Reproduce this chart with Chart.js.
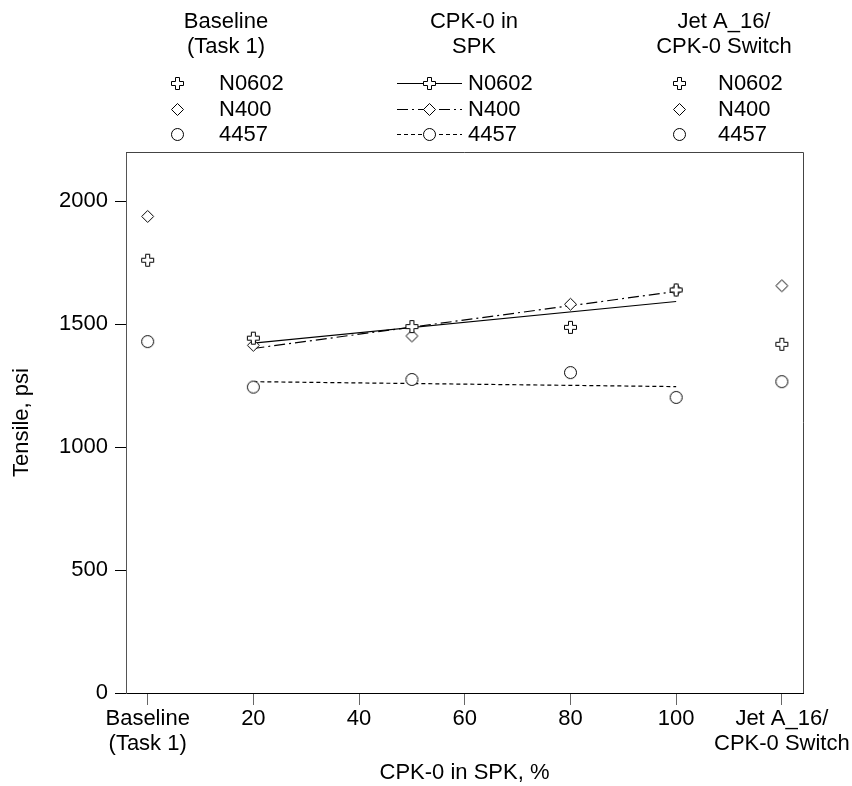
<!DOCTYPE html>
<html>
<head>
<meta charset="utf-8">
<script src="https://cdn.jsdelivr.net/npm/chart.js@4.4.0/dist/chart.umd.min.js"></script>
<style>
  html, body { margin: 0; padding: 0; background: #fff; }
</style>
</head>
<body>
<canvas id="chart" width="852" height="786"></canvas>
<script>
// x positions: Baseline, 20 %, 50 %, 80 %, 100 %, Jet A switch
const xPos = [0, 20, 50, 80, 100, 120];
const n0602 = [1760, 1443, 1490, 1487, 1639, 1418];
const n400 = [1938, 1414, 1452, 1581, 1639, 1656];
const s4457 = [1429, 1244, 1275, 1303, 1202, 1266];

// fitted lines over the CPK-0 blends (20..100 %)
const fitX = [20, 100];
const n0602Fit = [1423, 1592];
const n400Fit = [1401, 1633];
const s4457Fit = [1266, 1246];

const xTickVals = [0, 20, 40, 60, 80, 100, 120];
const xTickLabels = [['Baseline', '(Task 1)'], '20', '40', '60', '80', '100', ['Jet A_16/', 'CPK-0 Switch']];
const yTickVals = [0, 500, 1000, 1500, 2000];
const seriesNames = ['N0602', 'N400', '4457'];
const groupTitles = [['Baseline', '(Task 1)'], ['CPK-0 in', 'SPK'], ['Jet A_16/', 'CPK-0 Switch']];

const FONT_FAMILY = '"Liberation Sans", Arial, sans-serif';
const font = { family: FONT_FAMILY, size: 22 };
const markerKinds = ['plus', 'diamond', 'circle'];
const lineDashes = [[], [11, 4, 2, 4], [4, 3]];

function traceMarker(ctx, kind, x, y) {
  ctx.beginPath();
  if (kind === 'plus') {
    const a = 2, e = 6;
    ctx.moveTo(x - a, y - e);
    ctx.lineTo(x + a, y - e);
    ctx.lineTo(x + a, y - a);
    ctx.lineTo(x + e, y - a);
    ctx.lineTo(x + e, y + a);
    ctx.lineTo(x + a, y + a);
    ctx.lineTo(x + a, y + e);
    ctx.lineTo(x - a, y + e);
    ctx.lineTo(x - a, y + a);
    ctx.lineTo(x - e, y + a);
    ctx.lineTo(x - e, y - a);
    ctx.lineTo(x - a, y - a);
    ctx.closePath();
  } else if (kind === 'diamond') {
    ctx.moveTo(x, y - 6);
    ctx.lineTo(x + 6, y);
    ctx.lineTo(x, y + 6);
    ctx.lineTo(x - 6, y);
    ctx.closePath();
  } else {
    ctx.arc(x, y, 6, 0, Math.PI * 2);
  }
  ctx.fillStyle = '#fff';
  ctx.fill();
  ctx.strokeStyle = '#000';
  ctx.lineWidth = 1;
  ctx.setLineDash([]);
  ctx.stroke();
}

function markerImage(kind) {
  const c = document.createElement('canvas');
  c.width = 15;
  c.height = 15;
  traceMarker(c.getContext('2d'), kind, 7.5, 7.5);
  return c;
}

const seriesValues = [n0602, n400, s4457];
const fitValues = [n0602Fit, n400Fit, s4457Fit];

const pointSets = seriesValues.map((vals, i) => ({
  label: seriesNames[i],
  data: xPos.map((x, j) => ({ x, y: vals[j] })),
  pointStyle: markerImage(markerKinds[i]),
  pointRadius: 7,
  showLine: false,
  order: 0
}));

const fitSets = fitValues.map((vals, i) => ({
  label: seriesNames[i] + ' fit',
  data: fitX.map((x, j) => ({ x, y: vals[j] })),
  showLine: true,
  borderColor: '#000',
  borderWidth: 1.2,
  borderDash: lineDashes[i],
  pointRadius: 0,
  fill: false,
  order: 1
}));

// box top/right edge and the three-group key above the plot
const frameAndKey = {
  id: 'frameAndKey',
  afterDraw(chart) {
    const { ctx, chartArea: a } = chart;
    ctx.save();
    ctx.strokeStyle = '#444';
    ctx.lineWidth = 1;
    ctx.beginPath();
    ctx.moveTo(a.left, a.top + 0.5);
    ctx.lineTo(a.right + 0.5, a.top + 0.5);
    ctx.lineTo(a.right + 0.5, a.bottom);
    ctx.stroke();

    ctx.font = '22px ' + FONT_FAMILY;
    ctx.fillStyle = '#000';
    ctx.textBaseline = 'middle';

    const colCenters = [226, 474, 724];
    const headY = [22, 47];
    groupTitles.forEach((lines, c) => {
      ctx.textAlign = 'center';
      lines.forEach((t, k) => ctx.fillText(t, colCenters[c], headY[k]));
    });

    const rowY = [83, 109, 134];
    const markerX = [177.5, 429.5, 679.5];
    const textX = [219, 468, 718];
    rowY.forEach((y, r) => {
      if (true) {
        // sample line for the middle group
        ctx.beginPath();
        ctx.setLineDash(lineDashes[r]);
        ctx.lineWidth = 1.2;
        ctx.strokeStyle = '#000';
        ctx.moveTo(397, y + 0.5);
        ctx.lineTo(462, y + 0.5);
        ctx.stroke();
        ctx.setLineDash([]);
      }
      markerX.forEach(mx => traceMarker(ctx, markerKinds[r], mx, y + 0.5));
      ctx.fillStyle = '#000';
      ctx.textAlign = 'left';
      textX.forEach(tx => ctx.fillText(seriesNames[r], tx, y + 1));
    });
    ctx.restore();
  }
};

new Chart(document.getElementById('chart').getContext('2d'), {
  type: 'scatter',
  data: { datasets: pointSets.concat(fitSets) },
  options: {
    responsive: false,
    animation: false,
    devicePixelRatio: 1,
    layout: { padding: { top: 152, right: 49, left: 0, bottom: 0 } },
    plugins: { legend: { display: false }, tooltip: { enabled: false } },
    scales: {
      x: {
        type: 'linear',
        min: -4.1,
        max: 124,
        afterBuildTicks: s => { s.ticks = xTickVals.map(v => ({ value: v })); },
        afterFit: s => { s.height = 93; s.paddingLeft = 0; s.paddingRight = 0; },
        ticks: {
          autoSkip: false,
          maxRotation: 0,
          color: '#000',
          font: { family: FONT_FAMILY, size: 22, lineHeight: 1.13 },
          padding: 2,
          callback: (v, i) => xTickLabels[i]
        },
        grid: { drawOnChartArea: false, tickLength: 12, tickColor: '#666', color: '#666' },
        border: { color: '#000', width: 1 },
        title: { display: true, text: 'CPK-0 in SPK, %', color: '#000', font, padding: { top: 0, bottom: 0 } }
      },
      y: {
        min: 0,
        max: 2200,
        afterBuildTicks: s => { s.ticks = yTickVals.map(v => ({ value: v })); },
        afterFit: s => { s.width = 126; },
        ticks: { color: '#000', font, padding: 7, callback: v => String(v) },
        grid: { drawOnChartArea: false, tickLength: 11, tickColor: '#000', color: '#000' },
        border: { color: '#555', width: 1 },
        title: { display: true, text: 'Tensile, psi', color: '#000', font, padding: { top: 9, bottom: 0 } }
      }
    }
  },
  plugins: [frameAndKey]
});
</script>
</body>
</html>
